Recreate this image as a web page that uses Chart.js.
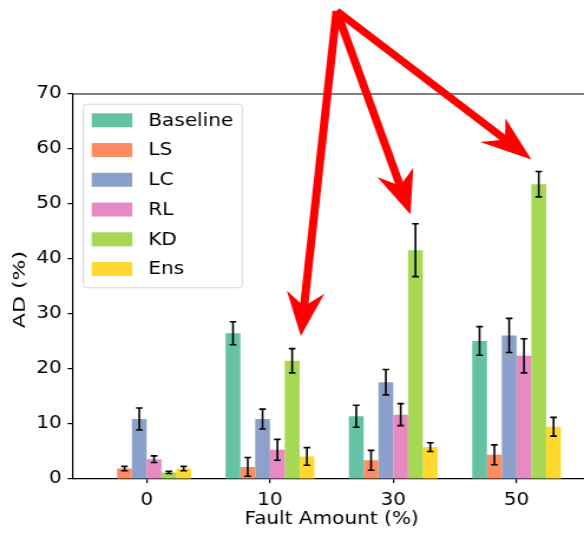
<!DOCTYPE html>
<html>
<head>
<meta charset="utf-8">
<script src="https://cdn.jsdelivr.net/npm/chart.js@4"></script>
<style>
    html, body { margin: 0; padding: 0; background: #fff; overflow: hidden; }
    /* the reference text is wider than DejaVu at its height, so stretch the whole drawing */
    #wrap { width: 495px; height: 533px; transform: scaleX(1.1798); transform-origin: 0 0; }
</style>
</head>
<body>
<div id="wrap"><canvas id="chart" width="495" height="533"></canvas></div>
<script>
const STRETCH = 1.1798;

const categories = ['0', '10', '30', '50'];
const seriesNames = ['Baseline', 'LS', 'LC', 'RL', 'KD', 'Ens'];
const seriesColors = ['#66c2a5', '#fc8d62', '#8da0cb', '#e78ac3', '#a6d854', '#ffd92f'];

const baseline = [0, 26.5, 11.4, 25.1];
const baselineErr = [0, 2.1, 2.0, 2.6];
const ls = [1.9, 2.2, 3.4, 4.4];
const lsErr = [0.4, 1.7, 1.8, 1.8];
const lc = [10.9, 10.9, 17.6, 26.1];
const lcErr = [2.0, 1.8, 2.3, 3.1];
const rl = [3.6, 5.3, 11.7, 22.4];
const rlErr = [0.6, 1.9, 2.0, 3.1];
const kd = [1.2, 21.5, 41.6, 53.6];
const kdErr = [0.2, 2.2, 4.8, 2.3];
const ens = [1.9, 4.1, 5.8, 9.5];
const ensErr = [0.4, 1.6, 0.8, 1.7];

const yTicks = [0, 10, 20, 30, 40, 50, 60, 70];
const xTitle = 'Fault Amount (%)';
const yTitle = 'AD (%)';

// annotation arrows, in data coordinates (x = category index)
const arrowStart = { x: 1.54, y: 85.1 };
const arrowTips = [
    { x: 1.25, y: 26.0 },
    { x: 2.14, y: 48.1 },
    { x: 3.12, y: 58.1 }
];

const FONT = "'DejaVu Sans', sans-serif";
Chart.defaults.font.family = FONT;
Chart.defaults.font.size = 17;
Chart.defaults.color = '#000';

const values = [baseline, ls, lc, rl, kd, ens];
const errors = [baselineErr, lsErr, lcErr, rlErr, kdErr, ensErr];

const datasets = seriesNames.map((name, i) => ({
    label: name,
    data: values[i].map((v, j) => ({ x: j, y: v })),
    errors: errors[i],
    backgroundColor: seriesColors[i],
    borderWidth: 0,
    categoryPercentage: 0.72,
    barPercentage: 1.0
}));

const errorBars = {
    id: 'errorBars',
    afterDatasetsDraw(chart) {
        const ctx = chart.ctx;
        const yScale = chart.scales.y;
        ctx.save();
        ctx.strokeStyle = '#000';
        ctx.lineWidth = 1.6;
        chart.data.datasets.forEach((ds, i) => {
            const meta = chart.getDatasetMeta(i);
            meta.data.forEach((bar, j) => {
                const v = ds.data[j].y;
                const e = ds.errors[j];
                if (!e) return;
                const top = yScale.getPixelForValue(v + e);
                const bot = yScale.getPixelForValue(v - e);
                const cap = 2.8;
                ctx.beginPath();
                ctx.moveTo(bar.x, top);
                ctx.lineTo(bar.x, bot);
                ctx.moveTo(bar.x - cap, top);
                ctx.lineTo(bar.x + cap, top);
                ctx.moveTo(bar.x - cap, bot);
                ctx.lineTo(bar.x + cap, bot);
                ctx.stroke();
            });
        });
        ctx.restore();
    }
};

function drawArrow(ctx, x0, y0, x1, y1) {
    const dx = x1 - x0, dy = y1 - y0;
    const len = Math.hypot(dx, dy);
    const ux = dx / len, uy = dy / len;
    const nx = -uy, ny = ux;
    const L = 44, W = 16, N = 30;
    const bx = x1 - ux * N, by = y1 - uy * N;
    ctx.beginPath();
    ctx.moveTo(x0, y0);
    ctx.lineTo(bx, by);
    ctx.stroke();
    ctx.beginPath();
    ctx.moveTo(x1, y1);
    ctx.lineTo(x1 - ux * L + nx * W, y1 - uy * L + ny * W);
    ctx.lineTo(bx, by);
    ctx.lineTo(x1 - ux * L - nx * W, y1 - uy * L - ny * W);
    ctx.closePath();
    ctx.fill();
}

const decorations = {
    id: 'decorations',
    afterDraw(chart) {
        const ctx = chart.ctx;
        const area = chart.chartArea;
        const xs = chart.scales.x, ys = chart.scales.y;
        ctx.save();

        // top spine
        ctx.strokeStyle = '#000';
        ctx.lineWidth = 1.2;
        ctx.beginPath();
        ctx.moveTo(area.left, area.top);
        ctx.lineTo(area.right, area.top);
        ctx.stroke();

        // axis titles (x title centred on the full, uncropped axes)
        ctx.fillStyle = '#000';
        ctx.font = '17px ' + FONT;
        ctx.textAlign = 'center';
        ctx.textBaseline = 'middle';
        const fullRight = xs.getPixelForValue(3.603);
        ctx.fillText(xTitle, (area.left + fullRight) / 2, 520);
        ctx.save();
        ctx.translate(17, (area.top + area.bottom) / 2 + 3);
        ctx.rotate(-Math.PI / 2);
        ctx.scale(1.3, 1 / STRETCH);
        ctx.fillText(yTitle, 0, 0);
        ctx.restore();

        // legend box
        const lx = area.left + 9.3, ly = area.top + 10.3;
        const lw = 134.7, lh = 183.4;
        ctx.beginPath();
        ctx.roundRect(lx, ly, lw, lh, 3);
        ctx.fillStyle = 'rgba(255,255,255,0.8)';
        ctx.fill();
        ctx.strokeStyle = '#d6d6d6';
        ctx.lineWidth = 1;
        ctx.stroke();
        ctx.textBaseline = 'middle';
        ctx.textAlign = 'left';
        chart.data.datasets.forEach((ds, i) => {
            const cy = ly + 16 + i * 29.75;
            ctx.fillStyle = ds.backgroundColor;
            ctx.fillRect(lx + 7.1, cy - 7, 34.4, 14);
            ctx.fillStyle = '#000';
            ctx.fillText(ds.label, lx + 55.1, cy + 1);
        });

        // red arrows
        ctx.strokeStyle = '#ff0000';
        ctx.fillStyle = '#ff0000';
        ctx.lineWidth = 7;
        ctx.lineCap = 'butt';
        const sx = xs.getPixelForValue(arrowStart.x), sy = ys.getPixelForValue(arrowStart.y);
        arrowTips.forEach(t => {
            drawArrow(ctx, sx, sy, xs.getPixelForValue(t.x), ys.getPixelForValue(t.y));
        });
        ctx.restore();
    }
};

new Chart(document.getElementById('chart'), {
    type: 'bar',
    data: { datasets },
    options: {
        responsive: false,
        animation: false,
        events: [],
        layout: { padding: { top: 94, right: 0, bottom: 0, left: 0 } },
        plugins: {
            legend: { display: false },
            tooltip: { enabled: false }
        },
        scales: {
            x: {
                type: 'linear',
                min: -0.603,
                max: 3.547,
                offset: false,
                afterFit: s => { s.height = 54; },
                afterBuildTicks: s => { s.ticks = categories.map((c, i) => ({ value: i })); },
                ticks: {
                    callback: v => categories[v],
                    padding: 7,
                    maxRotation: 0,
                    font: { size: 17 }
                },
                grid: { offset: false, drawOnChartArea: false, tickLength: 4, color: '#000', lineWidth: 1.2 },
                border: { color: '#000', width: 1.2 },
                title: { display: false }
            },
            y: {
                min: 0,
                max: 70,
                afterFit: s => { s.width = 61.3; },
                afterBuildTicks: s => { s.ticks = yTicks.map(v => ({ value: v })); },
                ticks: { padding: 5, font: { size: 17 } },
                grid: { drawOnChartArea: false, tickLength: 4, color: '#000', lineWidth: 1.2 },
                border: { color: '#000', width: 1.2 },
                title: { display: false }
            }
        }
    },
    plugins: [errorBars, decorations]
});
</script>
</body>
</html>
